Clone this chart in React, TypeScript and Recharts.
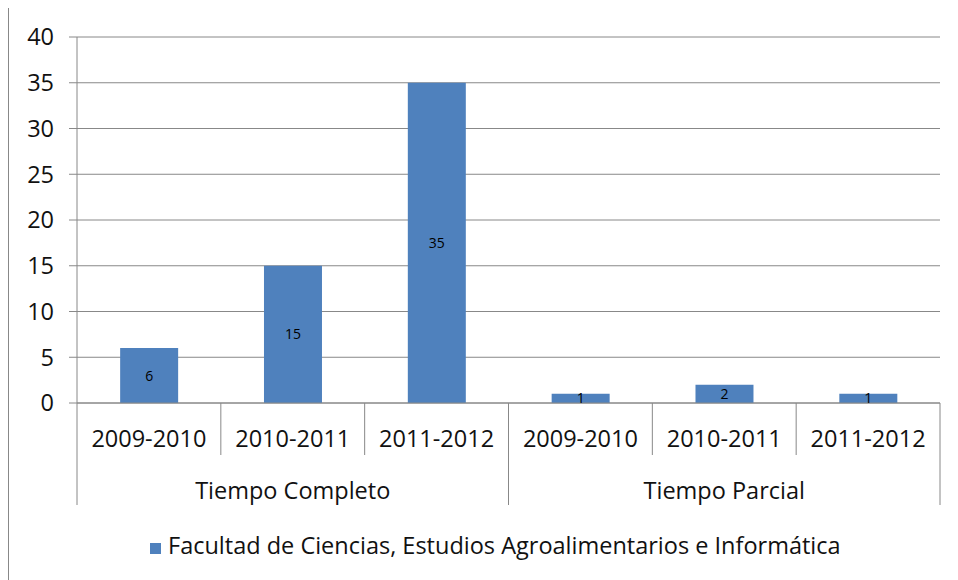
import { Bar, BarChart, CartesianGrid, LabelList, Legend, XAxis, YAxis } from "recharts";

const years = ["2009-2010", "2010-2011", "2011-2012", "2009-2010", "2010-2011", "2011-2012"];
const groups = ["Tiempo Completo", "Tiempo Completo", "Tiempo Completo", "Tiempo Parcial", "Tiempo Parcial", "Tiempo Parcial"];
const values = [6, 15, 35, 1, 2, 1];
const yTicks = [0, 5, 10, 15, 20, 25, 30, 35, 40];
const seriesName = "Facultad de Ciencias, Estudios Agroalimentarios e Informática";

const data = years.map((year, i) => ({ key: i, year, group: groups[i], value: values[i] }));

const CHART_W = 949;
const CHART_H = 572;
const MARGIN = { top: 29, right: 18, left: 0, bottom: 10 };
const Y_AXIS_W = 68;
const BAND = (CHART_W - MARGIN.left - MARGIN.right - Y_AXIS_W) / data.length;
const FONT = "'Open Sans', sans-serif";
const GRID = "#888888";
const BLUE = "#4F81BD";
const INK = "#111111";

function CategoryTick(props: any) {
  const { x, y, payload } = props;
  const i = payload.index as number;
  const row = data[i];
  const half = BAND / 2;
  const groupStart = i === 0 || data[i - 1].group !== row.group;
  const last = i === data.length - 1;
  const groupMembers = data.filter((d) => d.group === row.group);
  const isMiddle = groupMembers[Math.floor(groupMembers.length / 2)].key === row.key;
  return (
    <g>
      <line x1={x - half} x2={x - half} y1={y} y2={y + (groupStart ? 102 : 52)} stroke={GRID} />
      {last && <line x1={x + half} x2={x + half} y1={y} y2={y + 102} stroke={GRID} />}
      <text x={x} y={y + 35} textAnchor="middle" dominantBaseline="central" fontSize={23.5} fill={INK} fontFamily={FONT}>
        {row.year}
      </text>
      {isMiddle && (
        <text x={x} y={y + 87} textAnchor="middle" dominantBaseline="central" fontSize={23.5} fill={INK} fontFamily={FONT}>
          {row.group}
        </text>
      )}
    </g>
  );
}

function LegendContent() {
  return (
    <div style={{ height: 65, paddingTop: 27, paddingLeft: 141, boxSizing: "border-box", fontFamily: FONT, fontSize: 23.5, color: INK, lineHeight: "26px", whiteSpace: "nowrap" }}>
      <span style={{ display: "inline-block", width: 11, height: 11, background: BLUE, marginRight: 7 }} />
      {seriesName}
    </div>
  );
}

export default function App() {
  return (
    <div style={{ marginLeft: -1, marginTop: -2, width: 960, height: 580, borderTop: `2px solid ${GRID}`, borderLeft: `2px solid ${GRID}`, background: "#fff" }}>
      <BarChart width={CHART_W} height={CHART_H} data={data} margin={MARGIN} barCategoryGap="30%">
        <CartesianGrid vertical={false} stroke={GRID} />
        <XAxis dataKey="key" height={102} tickSize={0} tickMargin={0} tick={<CategoryTick />} axisLine={{ stroke: GRID }} interval={0} />
        <YAxis
          width={Y_AXIS_W}
          domain={[0, 40]}
          ticks={yTicks}
          interval={0}
          tickSize={8}
          tickMargin={15}
          tickLine={{ stroke: GRID }}
          axisLine={{ stroke: GRID }}
          tick={{ fontSize: 23.5, fill: INK, fontFamily: FONT }}
        />
        <Legend verticalAlign="bottom" wrapperStyle={{ left: 0, width: CHART_W }} content={<LegendContent />} />
        <Bar dataKey="value" name={seriesName} fill={BLUE} isAnimationActive={false}>
          <LabelList dataKey="value" position="center" fontSize={14} fill="#000" fontFamily={FONT} />
        </Bar>
      </BarChart>
    </div>
  );
}
